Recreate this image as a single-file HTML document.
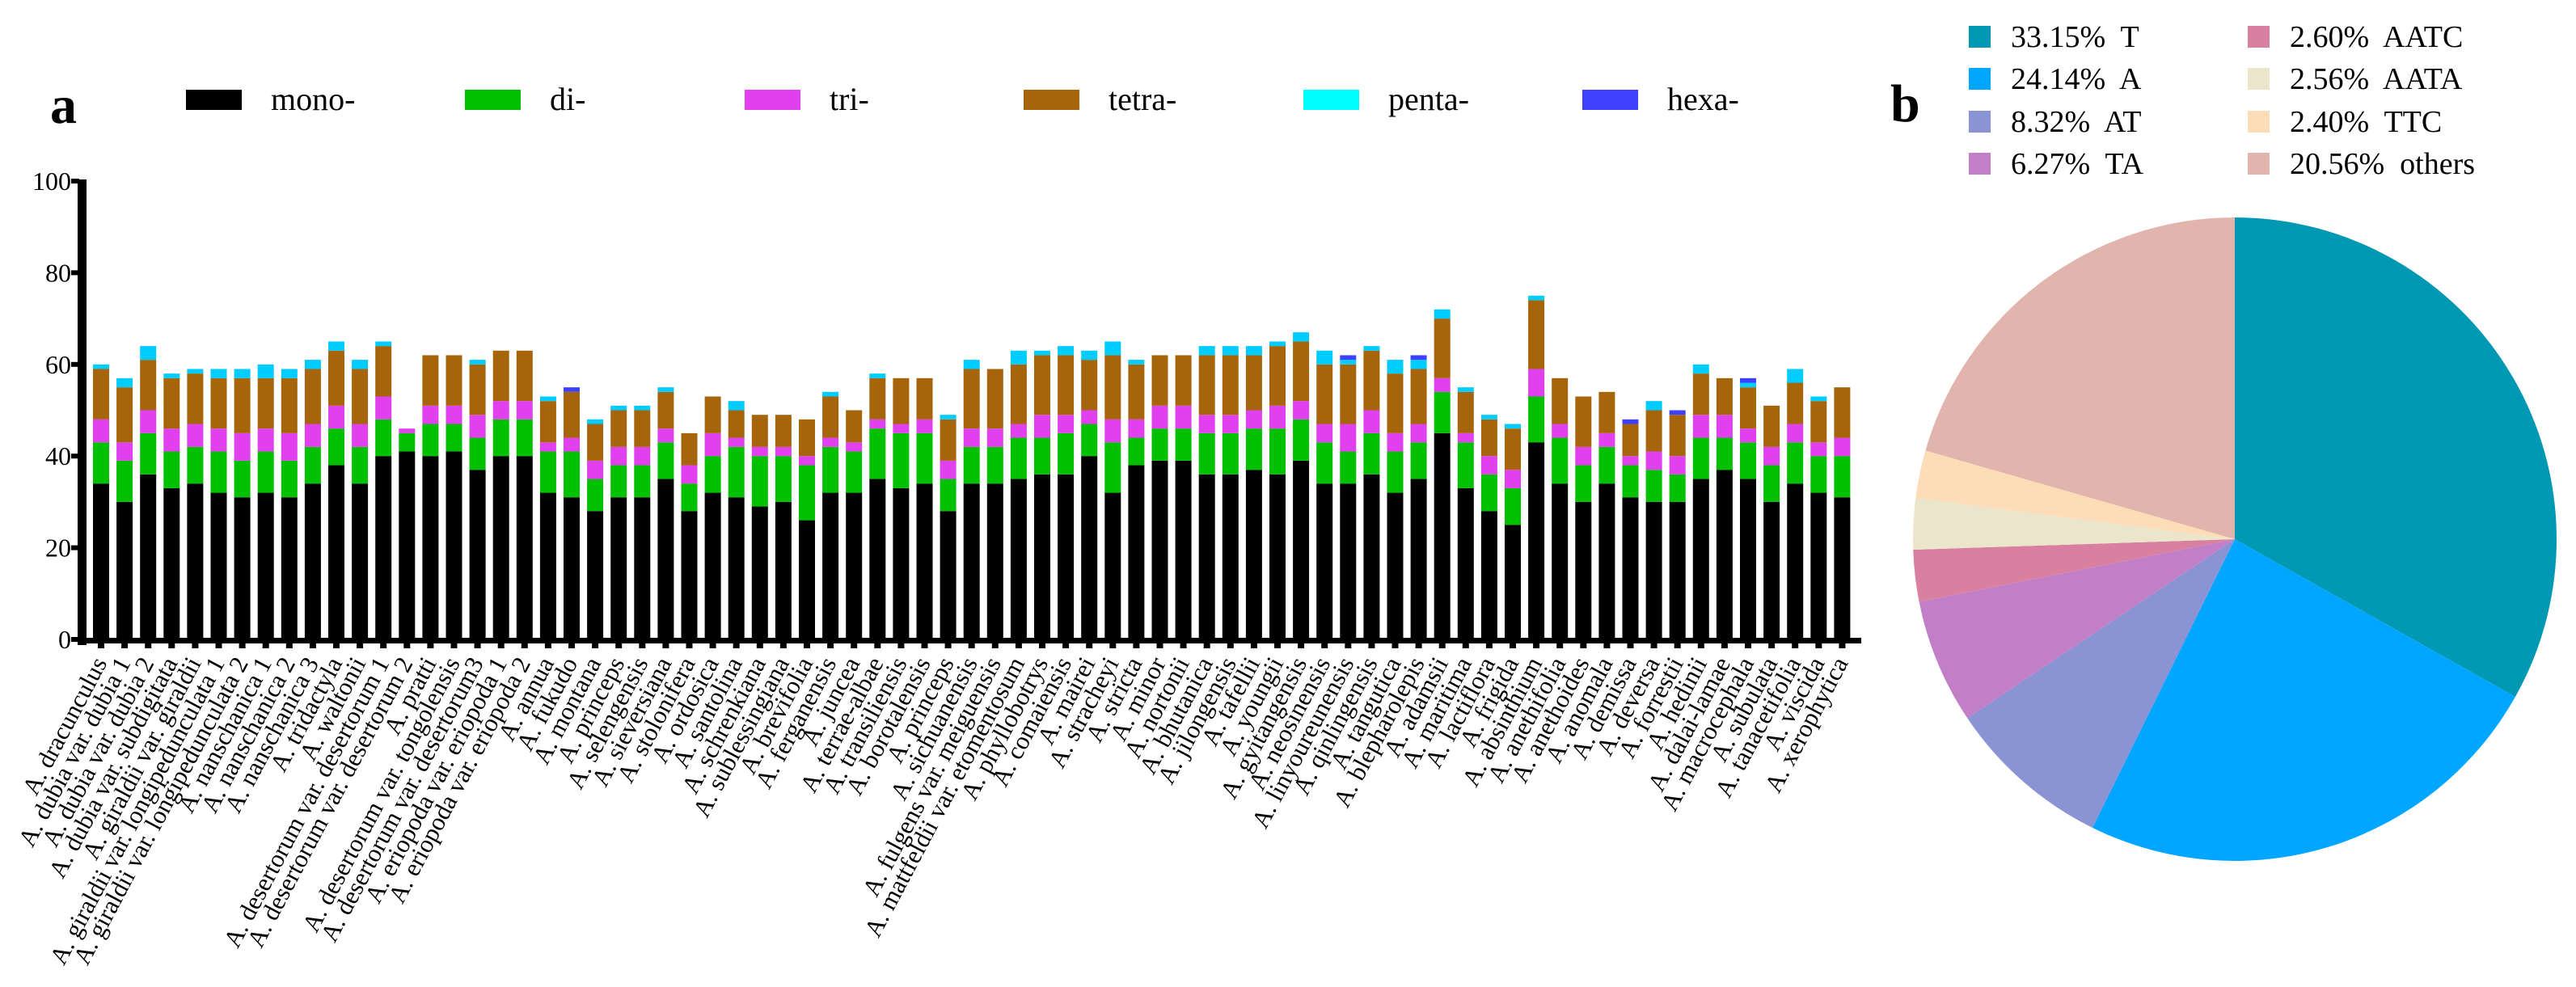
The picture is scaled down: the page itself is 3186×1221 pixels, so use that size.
<!DOCTYPE html>
<html><head><meta charset="utf-8"><style>
html,body{margin:0;padding:0;background:#fff;}
svg{display:block;}
text{font-family:"Liberation Serif","Times New Roman",serif;}
</style></head><body>
<svg id="fig" width="3186" height="1221" viewBox="0 0 3186 1221" xmlns="http://www.w3.org/2000/svg" font-family="Liberation Serif, serif">
<g id="chartA"></g>
<g id="chartB"></g>
</svg>
<script>
const categories = ["A. dracunculus","A. dubia var. dubia 1","A. dubia var. dubia 2","A. dubia var. subdigitata","A. giraldii var. giraldii","A. giraldii var. longipedunculata 1","A. giraldii var. longipedunculata 2","A. nanschanica 1","A. nanschanica 2","A. nanschanica 3","A. tridactyla","A. waltonii","A. desertorum var. desertorum 1","A. desertorum var. desertorum 2","A. pratti","A. desertorum var. tongolensis","A. desertorum var. desertorum3","A. eriopoda var. eriopoda 1","A. eriopoda var. eriopoda 2","A. annua","A. fukudo","A. montana","A. princeps","A. selengensis","A. sieversiana","A. stolonifera","A. ordosica","A. santolina","A. schrenkiana","A. sublessingiana","A. brevifolia","A. ferganensis","A. juncea","A. terrae-albae","A. transiliensis","A. borotalensis","A. princeps","A. sichuanensis","A. fulgens var. meiguensis","A. mattfeldii var. etomentosum","A. phyllobotrys","A. comaiensis","A. mairei","A. stracheyi","A. stricta","A. minor","A. nortonii","A. bhutanica","A. jilongensis","A. tafellii","A. youngii","A. gyitangensis","A. neosinensis","A. linyoureunensis","A. qinlingensis","A. tangutica","A. blepharolepis","A. adamsii","A. maritima","A. lactiflora","A. frigida","A. absinthium","A. anethifolia","A. anethoides","A. anomala","A. demissa","A. deversa","A. forrestii","A. hedinii","A. dalai-lamae","A. macrocephala","A. subulata","A. tanacetifolia","A. viscida","A. xerophytica"];
const mono  = [34,30,36,33,34,32,31,32,31,34,38,34,40,41,40,41,37,40,40,32,31,28,31,31,35,28,32,31,29,30,26,32,32,35,33,34,28,34,34,35,36,36,40,32,38,39,39,36,36,37,36,39,34,34,36,32,35,45,33,28,25,43,34,30,34,31,30,30,35,37,35,30,34,32,31];
const di    = [9,9,9,8,8,9,8,9,8,8,8,8,8,4,7,6,7,8,8,9,10,7,7,7,8,6,8,11,11,10,12,10,9,11,12,11,7,8,8,9,8,9,7,11,6,7,7,9,9,9,10,9,9,7,9,9,8,9,10,8,8,10,10,8,8,7,7,6,9,7,8,8,9,8,9];
const tri   = [5,4,5,5,5,5,6,5,6,5,5,5,5,1,4,4,5,4,4,2,3,4,4,4,3,4,5,2,2,2,2,2,2,2,2,3,4,4,4,3,5,4,3,5,4,5,5,4,4,4,5,4,4,6,5,4,4,3,2,4,4,6,3,4,3,2,4,4,5,5,3,4,4,3,4];
const tetra = [11,12,11,11,11,11,12,11,12,12,12,12,11,0,11,11,11,11,11,9,10,8,8,8,8,7,8,6,7,7,8,9,7,9,10,9,9,13,13,13,13,13,11,14,12,11,11,13,13,12,13,13,13,13,13,13,12,13,9,8,9,15,10,11,9,7,9,9,9,8,9,9,9,9,11];
const penta = [1,2,3,1,1,2,2,3,2,2,2,2,1,0,0,0,1,0,0,1,0,1,1,1,1,0,0,2,0,0,0,1,0,1,0,0,1,2,0,3,1,2,2,3,1,0,0,2,2,2,1,2,3,1,1,3,2,2,1,1,1,1,0,0,0,0,2,0,2,0,1,0,3,1,0];
const hexa  = [0,0,0,0,0,0,0,0,0,0,0,0,0,0,0,0,0,0,0,0,1,0,0,0,0,0,0,0,0,0,0,0,0,0,0,0,0,0,0,0,0,0,0,0,0,0,0,0,0,0,0,0,0,1,0,0,1,0,0,0,0,0,0,0,0,1,0,1,0,0,1,0,0,0,0];
const seriesNames = ["mono-","di-","tri-","tetra-","penta-","hexa-"];
const yTicks = [0,20,40,60,80,100];
const pieLabels = ["33.15%  T","24.14%  A","8.32%  AT","6.27%  TA","2.60%  AATC","2.56%  AATA","2.40%  TTC","20.56%  others"];
const pieValues = [33.15,24.14,8.32,6.27,2.60,2.56,2.40,20.56];

const NS="http://www.w3.org/2000/svg";
const FF='Liberation Serif, Times New Roman, serif';
function mk(tag,attrs,parent){const e=document.createElementNS(NS,tag);for(const k in attrs)e.setAttribute(k,attrs[k]);if(tag==='text')e.setAttribute('font-family',FF);parent.appendChild(e);return e;}
const A=document.getElementById('chartA');
const B=document.getElementById('chartB');
const colors=["#000000","#00C000","#E040EE","#A6650A","#00CCFF","#3F3FFF"];
const legendColors=["#000000","#00C000","#E040EE","#A6650A","#00FFFF","#3F3FFF"];
const x0=125, pitch=29.1, bw=20;
const yPix=v=>791-5.67*v;
const xPix=i=>x0+i*pitch;

let t=mk('text',{x:62,y:152,'font-size':66,'font-weight':'bold'},A);t.textContent='a';

const legX=[230,575,921,1266,1612,1957];
seriesNames.forEach((n,i)=>{
  const r=mk('rect',{x:legX[i],y:111,width:69,height:25,fill:legendColors[i]},A);
  
  
  const tx=mk('text',{x:legX[i]+105,y:136,'font-size':40},A);tx.textContent=n;
  
  
});
let ax=mk('rect',{x:96,y:222,width:11,height:576,fill:'#000'},A);

yTicks.forEach(v=>{
  const y=yPix(v);
  const tk=mk('rect',{x:88,y:y-3,width:10,height:6,fill:'#000'},A);
  
  const tl=mk('text',{x:88,y:y+11,'font-size':32,'text-anchor':'end'},A);tl.textContent=v;
  
});
const series=[mono,di,tri,tetra,penta,hexa];
categories.forEach((c,i)=>{
  let acc=0;const cx=xPix(i);
  series.forEach((s,k)=>{
    const v=s[i]; if(!v){return;}
    const r=mk('rect',{x:cx-bw/2,y:yPix(acc+v),width:bw,height:yPix(acc)-yPix(acc+v),fill:colors[k]},A);
    
    
    acc+=v;
  });
  const tk=mk('rect',{x:cx-4,y:791,width:8,height:11,fill:'#000'},A);
  
  const lx=cx+8, ly=820;
  const lb=mk('text',{x:lx,y:ly,'font-size':31,'text-anchor':'end',transform:'rotate(-62 '+lx+' '+ly+')'},A);
  lb.textContent=c;
  
  
});
let xa=mk('rect',{x:96,y:789,width:2206,height:7,fill:'#000'},A);


const pieColors=["#0098B2","#00A6FF","#8A93D4","#C27FC8","#D97FA0","#EBE5CB","#FDDDB8","#E2B4AE"];
let pl=mk('text',{x:2338,y:150,'font-size':66,'font-weight':'bold'},B);pl.textContent='b';

const cxp=2764, cyp=667, R=398;
const total=pieValues.reduce((a,b)=>a+b,0);
let ang=0;
pieValues.forEach((v,i)=>{
  const a0=ang, a1=ang+v/total*2*Math.PI; ang=a1;
  const x1=cxp+R*Math.sin(a0), y1=cyp-R*Math.cos(a0);
  const x2=cxp+R*Math.sin(a1), y2=cyp-R*Math.cos(a1);
  const large=(a1-a0)>Math.PI?1:0;
  const p=mk('path',{d:`M${cxp},${cyp} L${x1},${y1} A${R},${R} 0 ${large} 1 ${x2},${y2} Z`,fill:pieColors[i]},B);
  
  
});
const legPos=[[2435,45],[2435,97],[2435,150],[2435,202],[2780,45],[2780,97],[2780,150],[2780,202]];
pieLabels.forEach((l,i)=>{
  const [lx,ly]=legPos[i];
  const r=mk('rect',{x:lx,y:ly-13,width:27,height:27,fill:pieColors[i]},B);
  
  
  const tx=mk('text',{x:lx+52,y:ly+13,'font-size':38},B);
  tx.style.whiteSpace='pre';
  tx.textContent=l;
  
  
});
</script>
</body></html>
